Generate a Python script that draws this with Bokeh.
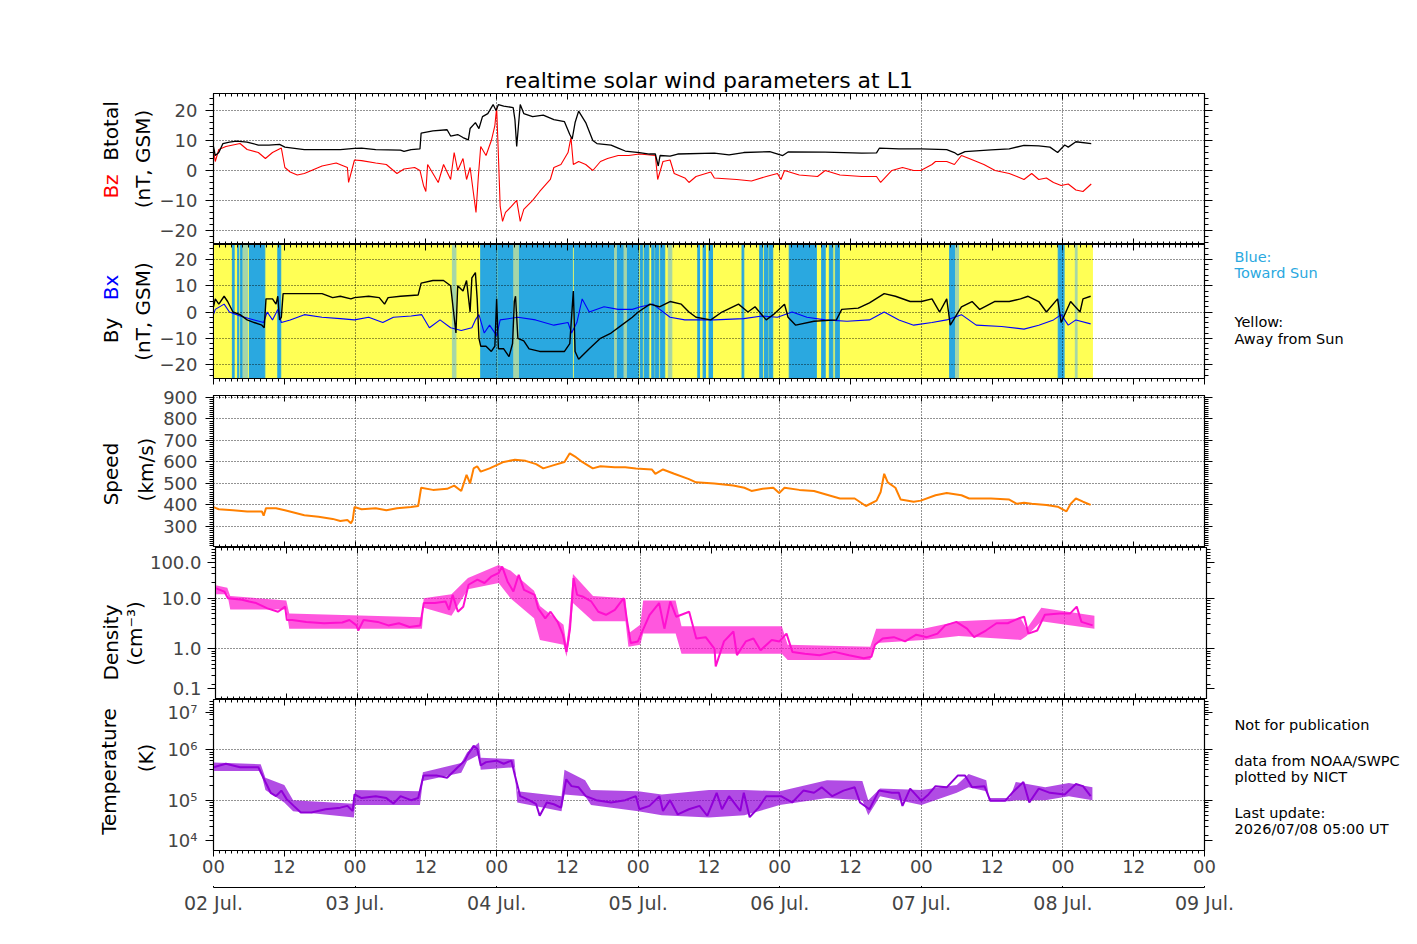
import math
from bokeh.plotting import figure
from bokeh.models import Range1d, FixedTicker, LinearAxis, LogAxis, Grid
from bokeh.core.properties import value
from bokeh.layouts import column, row
from bokeh.embed import file_html
from bokeh.resources import INLINE

FONT = "DejaVu Sans"

# ---------------- data (hours since 2026-07-02 00:00 UT) ----------------
bt_t = [0, 0.3, 0.9, 1.6, 2.7, 3.9, 5.7, 7.6, 9.4, 11.2,
        12.1, 15.4, 21.5, 23.9, 25.1, 27.5, 31.7, 32.3, 33.5, 35.0,
        35.2, 37.2, 39.6, 40.2, 41.4, 42.3, 43.2, 43.5, 44.4, 45.0,
        45.6, 46.5, 47.4, 47.9, 48.3, 49.2, 50.8, 51.1, 51.4, 51.7,
        52.0, 52.6, 54.1, 55.9, 57.7, 59.5, 60.4, 60.8, 61.3, 61.9,
        63.1, 64.3, 65.0, 67.4, 68.6, 69.8, 72.2, 73.9, 74.9, 75.4,
        75.7, 77.4, 78.7, 84.9, 87.4, 89.9, 94.3, 96.5, 97.4, 103.7,
        109.9, 112.4, 112.9, 116.2, 119.9, 124.3, 125.6, 126.2, 127.4, 131.8,
        134.9, 137.4, 139.9, 141.8, 143.1, 144.3, 144.9, 146.2, 148.8]
bt_v = [8, 5, 6, 9, 9.5, 9.8, 9.5, 8.5, 8.5, 8.7,
        7.8, 7.0, 7.0, 7.4, 7.5, 7.0, 6.8, 6.4, 7.0, 7.2,
        12.5, 13.2, 13.6, 11.5, 12, 11, 10.2, 14, 16, 14,
        18, 19, 22, 20, 22, 21.5, 21, 17, 8, 15,
        22, 19, 18, 18.5, 17, 16.3, 12, 10.5, 16, 19.8,
        16, 10, 9, 8.5, 7.5, 6.5, 6, 5.5, 5.5, 1.5,
        5, 4.8, 5.5, 5.8, 5.2, 6, 6.3, 5, 6.2, 6.1,
        5.8, 5.9, 7.5, 7.2, 7.2, 7.0, 6, 5.2, 6.3, 6.9,
        7.2, 8.4, 8.2, 7.8, 6, 8.5, 7.8, 9.6, 9.0]

bz_t = [0, 0.3, 0.9, 2.1, 3.3, 4.5, 5.7, 7.6, 8.8, 10.0,
        11.5, 12.1, 13.0, 14.2, 15.4, 16.6, 18.4, 20.8, 22.7, 22.9,
        23.9, 25.1, 27.5, 29.3, 31.1, 32.3, 34.1, 35.0, 35.6, 36.0,
        36.3, 37.2, 38.1, 39.0, 40.2, 40.8, 41.4, 42.3, 42.9, 43.5,
        44.1, 44.5, 44.9, 45.3, 46.2, 47.1, 47.7, 48.0, 48.3, 48.6,
        49.0, 49.5, 50.5, 51.4, 52.0, 52.6, 54.1, 55.3, 57.1, 57.7,
        58.9, 60.1, 60.6, 61.0, 61.9, 63.1, 64.3, 65.6, 66.8, 68.6,
        70.4, 72.2, 74.9, 75.3, 76.2, 77.4, 78.1, 79.9, 80.6, 81.8,
        84.3, 84.9, 88.7, 91.2, 93.7, 95.6, 96.2, 96.8, 99.3, 102.4,
        103.7, 106.2, 109.9, 112.4, 113.1, 115.0, 116.8, 118.7, 119.9, 121.8,
        122.4, 124.3, 125.6, 126.8, 128.1, 130.6, 132.5, 134.9, 136.2, 137.4,
        138.7, 139.9, 141.2, 142.4, 143.7, 144.9, 146.2, 147.4, 148.8]
bz_v = [7, 3, 7, 8, 8.5, 9, 7, 6, 4, 6,
        7.5, 1, -0.5, -1.5, -1, 0, 1.5, 2.5, 1, -4,
        3.5, 3.3, 2.5, 2, -1, 0.5, 1, 0, -5, -7,
        2, -1, -4, 2, -3, 6, 0, 4, -3, 1,
        -8, -14, -2, 8, 5, 10, 15, 21, 5, -12,
        -17, -14, -12, -10, -17, -13, -10, -7, -3, 1,
        2, 6, 11, 2, 3, 2, 0, 3, 4, 5,
        5, 5.5, 5, -3, 3, 3.5, -1, -2.5, -4, -2,
        -0.5, -2.5, -3, -3.5, -2, -1, -3, 0, -1.5, -2,
        0, -1.5, -2, -2, -4, 0, 1, 0, 0, 2,
        3, 3, 2, 5, 4, 2, 0, -1, -2, -3,
        -1, -3, -2.5, -4, -5, -4.5, -6.5, -7, -4.5]

by_t = [0, 0.3, 0.9, 1.8, 2.4, 3.3, 4.5, 5.7, 6.9, 8.2,
        8.6, 8.9, 10.0, 10.6, 10.9, 11.2, 11.5, 11.8, 15.4, 18.4,
        20.2, 21.5, 23.3, 23.9, 26.3, 28.1, 29.0, 29.6, 31.7, 34.7,
        35.2, 37.2, 39.0, 40.2, 40.7, 41.1, 41.4, 42.3, 42.9, 43.5,
        43.8, 44.4, 44.7, 45.0, 45.3, 46.2, 47.1, 47.7, 48.0, 48.3,
        49.2, 50.1, 50.7, 51.0, 51.2, 51.6, 52.6, 53.5, 55.3, 57.7,
        59.5, 60.4, 61.0, 61.3, 61.9, 63.7, 65.6, 67.4, 69.2, 71.0,
        72.0, 74.0, 75.6, 77.4, 79.3, 80.6, 81.8, 84.3, 86.2, 89.0,
        90.6, 91.8, 93.7, 94.9, 96.8, 97.4, 98.7, 101.8, 105.6, 106.5,
        109.3, 111.2, 113.7, 115.6, 118.1, 120.0, 121.8, 123.1, 124.3, 124.9,
        126.8, 128.6, 129.9, 132.4, 134.9, 136.8, 138.1, 139.9, 141.2, 143.1,
        143.7, 145.3, 146.9, 147.4, 148.7]
by_v = [2, 5, 3, 6, 4, 0, -1, -3, -4, -5,
        -6, 5, 5, 3, 6, -3, -2, 7, 7, 7,
        5.5, 6, 5, 5.5, 6, 5.5, 3, 5.5, 6, 6.5,
        11, 12, 12, 10, 0, -8, 10, 8, 12, 0,
        13, 15, 5, -10, -13, -13, -15, -13, 5, -14,
        -14, -17, -12, 4, 6, -10, -11, -14, -15, -15,
        -15, -12, 8, -15, -18, -14, -10, -8, -5, -2,
        0, 3, 2, 4, 3, 0, -2, -3, 0, 3,
        0, 2, -3, -1, 3, -2, -5, -3.5, -3, 1,
        1.5, 3.5, 7, 6, 4, 4, 5, 0, 5, -5,
        2, 4, 1, 4, 4, 5, 6, 4, 0, 5,
        -4, 4, 0, 5, 6]

bx_t = [0, 0.3, 1.8, 2.7, 4.5, 6.9, 8.5, 9.1, 10.0, 10.9,
        11.5, 13.0, 15.4, 18.4, 21.5, 23.9, 26.3, 28.7, 30.5, 33.5,
        35.3, 36.6, 38.4, 40.2, 42.0, 43.8, 44.4, 45.0, 45.9, 46.8,
        48.0, 48.6, 51.6, 54.6, 57.7, 60.1, 60.7, 61.6, 62.5, 63.7,
        66.2, 68.6, 71.0, 72.4, 74.5, 77.4, 79.9, 84.9, 89.9, 93.0,
        95.6, 98.1, 100.6, 103.7, 107.4, 111.2, 113.7, 116.2, 118.7, 121.8,
        124.3, 126.8, 129.3, 133.6, 137.4, 139.9, 142.4, 143.7, 144.9, 146.2,
        148.7]
bx_v = [-1, 1, 3, 0, -1.5, -3, -4, 0, -3, 1,
        -4, -3, -1, -2, -2.5, -3, -2, -4, -2, -1.5,
        -1, -6, -3, -6, -7, -6, -3, -1, -8, -5,
        -9, -3, -2, -3, -5, -4, -8, -4, 5, 0,
        2, 1, 1, 2, 3, -2, -3, -3, -2.5, -1.5,
        -2, 0, -2, -3, -3.5, -3, 0, -3, -5, -4,
        -3, -1, -5, -5.5, -6.5, -5, -3, -1, -5, -3,
        -4.5]

# IMF sector background (blue = toward Sun), hours
blue_start = [3.2, 4.1, 4.6, 6.1, 10.9, 45.3, 48.2, 61.2, 72.4, 73.0,
              74.3, 74.9, 75.8, 82.1, 83.0, 84.0, 89.6, 92.6, 93.4, 94.2,
              97.6, 103.1, 104.4, 105.4, 124.8, 143.2]
blue_end = [3.5, 4.3, 4.9, 8.7, 11.4, 48.0, 60.9, 72.1, 72.7, 73.8,
            74.7, 75.5, 76.5, 82.4, 83.4, 84.6, 89.9, 93.1, 94.0, 94.8,
            102.2, 103.7, 105.0, 106.1, 125.7, 144.2]
mixed_start = [5.0, 40.5, 50.9, 68.0, 69.6, 77.1, 125.8, 146.1]
mixed_end = [5.8, 41.1, 51.7, 68.3, 70.0, 77.7, 126.3, 146.4]
data_end = 149.0

sp_t = [0, 0.9, 3.3, 5.7, 8.2, 8.5, 8.9, 10.6, 12.1, 13.6,
        15.4, 17.8, 20.2, 21.5, 22.7, 23.3, 23.6, 23.9, 25.1, 27.5,
        29.3, 31.1, 33.5, 34.7, 35.2, 37.2, 39.6, 40.8, 42.0, 42.9,
        43.5, 44.1, 44.7, 45.3, 46.8, 48.0, 49.2, 51.1, 52.9, 54.7,
        55.9, 57.7, 59.5, 60.4, 61.3, 62.5, 64.3, 65.6, 68.0, 69.8,
        71.6, 74.3, 74.9, 76.2, 78.1, 80.6, 81.8, 84.9, 88.1, 90.0,
        91.2, 93.1, 94.9, 95.9, 96.8, 99.3, 101.8, 103.7, 106.2, 108.7,
        110.6, 112.4, 113.1, 113.7, 114.3, 115.6, 116.5, 118.7, 119.9, 122.4,
        124.3, 126.8, 128.1, 131.8, 134.9, 136.2, 137.4, 138.7, 141.2, 143.1,
        144.6, 145.3, 146.2, 147.4, 148.7]
sp_v = [390, 380, 375, 370, 370, 350, 385, 385, 375, 365,
        352, 345, 335, 325, 330, 315, 330, 390, 380, 385,
        375, 385, 390, 395, 480, 470, 475, 490, 465, 540,
        500, 570, 580, 555, 570, 585, 600, 610, 605, 590,
        570, 585, 600, 640, 625, 600, 570, 580, 575, 575,
        570, 565, 545, 565, 545, 520, 505, 500, 490, 480,
        465, 475, 480, 455, 480, 470, 465, 450, 430, 430,
        395, 420, 460, 545, 505, 480, 425, 415, 420, 445,
        455, 445, 430, 430, 425, 405, 410, 405, 400, 392,
        370, 405, 430, 415, 400]

dn_t = [0, 1.5, 2.1, 4.5, 5.7, 6.9, 8.8, 10.6, 11.8, 12.1,
        13.0, 15.4, 18.4, 21.5, 22.7, 23.9, 24.2, 25.1, 27.5, 29.3,
        31.1, 32.9, 34.7, 35.3, 37.2, 39.0, 39.6, 40.2, 41.1, 42.0,
        42.9, 44.4, 45.6, 46.8, 48.0, 48.6, 49.5, 50.5, 51.4, 52.3,
        54.1, 54.7, 55.9, 56.8, 58.0, 58.9, 59.5, 60.1, 60.7, 61.3,
        62.2, 63.7, 64.9, 66.2, 67.7, 69.2, 69.8, 70.4, 71.6, 72.8,
        73.6, 75.2, 76.1, 77.1, 78.1, 80.3, 81.5, 83.1, 84.6, 84.8,
        86.2, 87.8, 88.4, 89.9, 91.2, 92.4, 94.3, 95.6, 96.8, 97.8,
        99.9, 102.4, 104.9, 107.4, 109.9, 111.2, 111.8, 113.1, 115.0, 116.9,
        118.8, 120.6, 122.4, 123.7, 125.6, 127.4, 128.6, 130.6, 132.4, 134.3,
        136.2, 137.1, 137.8, 139.3, 140.6, 143.1, 144.9, 146.0, 146.8, 148.7]
dn_v = [15.8, 13.5, 10, 9.3, 8.6, 8, 6.3, 5.4, 6.8, 3.7,
        3.7, 3.4, 3.2, 3.3, 3.7, 2.9, 2.3, 3.7, 3.4, 2.9,
        3.2, 2.7, 2.9, 8, 8, 8.6, 5.9, 11.6, 5.4, 6.8,
        18.4, 23.2, 19.9, 27, 31.4, 42, 21.4, 13.6, 29, 14.6,
        11.6, 6.3, 4, 5.4, 3.4, 1.9, 0.87, 2.5, 24.9, 11.6,
        10.8, 8.6, 5.4, 4.7, 5.9, 10, 3.4, 1.3, 1.4, 2.9,
        4.7, 8, 2.5, 8.6, 4.3, 5.4, 1.6, 1.7, 1.0, 0.45,
        1.4, 2.2, 0.75, 1.4, 1.6, 0.94, 1.5, 1.4, 2, 0.87,
        0.8, 0.75, 0.87, 0.75, 0.65, 0.7, 1.2, 1.6, 1.7, 1.4,
        1.9, 1.7, 2, 2.9, 3.4, 2.5, 1.7, 2.3, 3.2, 3.2,
        4, 4.3, 2, 2.3, 4.7, 5, 5, 6.8, 3.4, 2.9]
# spread of the 1-min density samples (envelope)
dn_band_t = [0, 2, 2.5, 12, 12.5, 35, 35.3, 40, 42.8, 48,
             50, 54, 55, 59, 59.5, 60, 60.6, 64, 69.5, 70,
             72, 72.5, 78, 79, 96, 97, 111, 112, 120, 126,
             136.5, 137.5, 140, 149]
dn_band_lo = [12, 12, 6, 6, 2.5, 2.5, 6.5, 4.5, 15, 20,
              10, 4, 1.5, 1.2, 0.7, 1.5, 8, 3.5, 3.5, 1.1,
              1.2, 2, 2, 0.8, 0.8, 0.6, 0.6, 1.3, 1.5, 1.8,
              1.5, 1.8, 3.5, 2.5]
dn_band_hi = [18, 16, 11, 9, 5, 4.2, 10, 12, 25, 45,
              35, 14, 7, 3, 1.2, 4, 30, 11, 10, 2,
              3, 9, 9, 2.8, 2.8, 1.2, 1.1, 2.5, 2.5, 3.5,
              4, 2.5, 6.5, 4.5]

tp_t = [0, 2.1, 4.5, 7.6, 8.8, 9.7, 10.6, 11.5, 12.4, 13.6,
        14.8, 16.6, 19.0, 21.5, 22.7, 23.6, 23.9, 25.1, 27.5, 29.3,
        30.5, 31.7, 33.5, 34.7, 35.6, 37.8, 39.6, 41.4, 42.6, 43.2,
        44.1, 44.7, 45.3, 46.2, 48.0, 49.2, 50.5, 51.1, 52.0, 53.5,
        54.7, 55.3, 56.5, 57.7, 58.9, 59.8, 60.7, 61.9, 63.1, 64.9,
        67.4, 69.8, 71.6, 72.2, 73.9, 75.6, 76.2, 77.4, 78.7, 80.6,
        82.4, 83.7, 85.3, 86.2, 87.4, 89.3, 89.9, 90.9, 92.4, 93.7,
        96.2, 98.1, 100.0, 101.8, 103.1, 104.9, 106.8, 108.7, 109.6, 111.2,
        112.8, 115.0, 116.2, 116.8, 118.1, 120.0, 121.2, 122.4, 124.3, 126.2,
        127.4, 128.6, 130.7, 131.7, 134.2, 135.4, 137.3, 138.3, 139.9, 141.8,
        144.3, 146.2, 147.4, 148.7]
tp_v = [4.5e5, 5.3e5, 4.5e5, 4.5e5, 2.3e5, 1.4e5, 1.2e5, 1.55e5, 1.05e5, 7.7e4,
        5.7e4, 5.7e4, 6.6e4, 7.1e4, 7.7e4, 6.1e4, 1.3e5, 1.1e5, 1.2e5, 1.1e5,
        8.6e4, 1.2e5, 1e5, 1.1e5, 3.1e5, 3.1e5, 2.8e5, 4.5e5, 6.1e5, 8.3e5,
        1.2e6, 1.05e6, 4.9e5, 5.7e5, 6.1e5, 5.3e5, 6.1e5, 3.1e5, 1.2e5, 1e5,
        8.3e4, 4.9e4, 9e4, 8.3e4, 7.1e4, 2.6e5, 1.9e5, 1.8e5, 1.2e5, 1e5,
        9e4, 1e5, 1.2e5, 6.6e4, 7.7e4, 1.2e5, 6.1e4, 1e5, 5.2e4, 6.6e4,
        7.7e4, 4.9e4, 1.4e5, 6.6e4, 1.2e5, 6.1e4, 1.4e5, 4.6e4, 7.1e4, 1.2e5,
        1.2e5, 9e4, 1.55e5, 1.4e5, 1.8e5, 1.2e5, 1.55e5, 1.8e5, 9e4, 6.6e4,
        1.55e5, 1.4e5, 1.4e5, 7.7e4, 1.7e5, 9.7e4, 1.3e5, 1.9e5, 1.8e5, 3.1e5,
        3.1e5, 1.8e5, 1.9e5, 9.7e4, 9.7e4, 1.4e5, 2.3e5, 9e4, 1.7e5, 1.4e5,
        1.3e5, 2.1e5, 1.9e5, 1.2e5]
# spread of the 1-min temperature samples (envelope)
tp_band_t = [0, 8, 8.8, 12, 13.5, 23.8, 24, 35, 35.5, 42,
             43, 45, 45.3, 51, 51.5, 59, 59.5, 63, 64, 72,
             76, 84, 90, 96, 104, 110, 111, 113, 120, 126,
             128, 131, 131.5, 135, 136, 141, 145, 149]
tp_band_lo = [3.8e5, 3.8e5, 1.6e5, 9e4, 6e4, 4.5e4, 8e4, 8e4, 2.4e5, 3.5e5,
              6e5, 8e5, 4e5, 4.5e5, 9e4, 6e4, 1.3e5, 1.2e5, 8e4, 6e4,
              5e4, 4.5e4, 5e4, 8e4, 1.1e5, 1e5, 5e4, 1.2e5, 8e4, 1.4e5,
              1.8e5, 1.5e5, 9.5e4, 9.5e4, 1e5, 1e5, 1.2e5, 1e5]
tp_band_hi = [5.6e5, 5.2e5, 2.8e5, 2e5, 1e5, 8.5e4, 1.6e5, 1.5e5, 3.6e5, 5.5e5,
              9e5, 1.4e6, 7e5, 6.5e5, 1.5e5, 1.2e5, 4e5, 2.5e5, 1.6e5, 1.5e5,
              1.3e5, 1.6e5, 1.6e5, 1.5e5, 2.5e5, 2.4e5, 1e5, 1.7e5, 1.6e5, 2e5,
              3.3e5, 2.5e5, 1.1e5, 1.1e5, 2.3e5, 1.8e5, 2.2e5, 1.8e5]

# tick labels
hour_ticks = list(range(0, 169, 12))
hour_labels = ["00" if h % 24 == 0 else "12" for h in hour_ticks]
day_ticks = list(range(0, 169, 24))
day_labels = ["02 Jul.", "03 Jul.", "04 Jul.", "05 Jul.", "06 Jul.", "07 Jul.", "08 Jul.", "09 Jul."]

# ---------------- styling ----------------
YELLOW = "#ffff55"
BLUE_BG = "#2aa8e0"
MIXED = "#a6d6a8"
C_BZ = "#ff0000"
C_BX = "#0000ff"
C_SP = "#ff8000"
C_DN = "#ff10d0"
C_TP = "#9000d8"

xr = Range1d(0, 168)
FW = 991
V = math.pi / 2


def new_panel(fh, yr, left, right, log=False, top=0, bottom=0):
    p = figure(frame_width=FW, frame_height=fh, x_range=xr, y_range=yr,
               y_axis_type="log" if log else "linear",
               x_axis_location=None, y_axis_location=None,
               min_border_left=left, min_border_right=right,
               min_border_top=top, min_border_bottom=bottom,
               toolbar_location=None, output_backend="svg")
    p.center = [r for r in p.center if not isinstance(r, Grid)]
    p.outline_line_color = "black"
    p.outline_line_width = 1.2
    p.background_fill_color = "white"
    p.border_fill_color = "white"
    return p


def text_fig(w, h, frame_top, frame_bottom):
    # the row aligns this frame with the neighbouring panel frame;
    # y is expressed as minus the page pixel row
    f = figure(width=w, height=h, x_range=Range1d(0, w), y_range=Range1d(-frame_bottom, -frame_top),
               x_axis_location=None, y_axis_location=None, min_border=0,
               toolbar_location=None, output_backend="svg")
    f.center = [r for r in f.center if not isinstance(r, Grid)]
    f.outline_line_color = None
    f.background_fill_color = "white"
    f.border_fill_color = "white"
    return f


def put(f, x, y_page, s, size="20px", color="black", vertical=True, align="center"):
    f.text(x=[x], y=[-y_page], text=[s], angle=V if vertical else 0.0,
           text_font=value(FONT), text_font_size=value(size), text_color=color,
           text_align=align, text_baseline="middle")


def hide_labels(ax):
    ax.major_label_text_font_size = "1px"
    ax.major_label_text_alpha = 0
    ax.major_label_text_color = None
    ax.major_label_standoff = 0


def x_axis(p, place, inward, labels=False, size="18px"):
    ax = LinearAxis(ticker=FixedTicker(ticks=hour_ticks, minor_ticks=list(range(0, 169))))
    if inward:
        ax.major_tick_in, ax.major_tick_out = 6, 0
        ax.minor_tick_in, ax.minor_tick_out = 3, 0
    else:
        ax.major_tick_in, ax.major_tick_out = 0, 6
        ax.minor_tick_in, ax.minor_tick_out = 0, 3
    if labels:
        ax.major_label_overrides = dict(zip(hour_ticks, hour_labels))
        ax.major_label_text_font = FONT
        ax.major_label_text_font_size = size
        ax.major_label_standoff = 3
    else:
        hide_labels(ax)
    ax.axis_line_color = "black"
    p.add_layout(ax, place)


def y_axes(p, log, ticks, labels, minor, grid_ticks, standoff=8):
    cls = LogAxis if log else LinearAxis
    for side in ("left", "right"):
        ax = cls(ticker=FixedTicker(ticks=ticks, minor_ticks=minor))
        ax.major_tick_out, ax.major_tick_in = 8, 0
        ax.minor_tick_out, ax.minor_tick_in = 4, 0
        if side == "left":
            ax.major_label_overrides = dict(zip(ticks, labels))
            ax.major_label_text_font = FONT
            ax.major_label_text_font_size = "18px"
            ax.major_label_standoff = standoff
        else:
            hide_labels(ax)
        p.add_layout(ax, side)
    g = Grid(dimension=1, ticker=FixedTicker(ticks=grid_ticks),
             grid_line_color="black", grid_line_dash="1 2", grid_line_width=1, grid_line_alpha=0.85)
    p.add_layout(g)
    gx = Grid(dimension=0, ticker=FixedTicker(ticks=day_ticks[1:-1]),
              grid_line_color="black", grid_line_dash="1 2", grid_line_width=1, grid_line_alpha=0.85)
    p.add_layout(gx)


lin_minor_b = list(range(-24, 26, 2))
b_ticks = [-20, -10, 0, 10, 20]
b_labels = ["\u221220", "\u221210", "0", "10", "20"]

# ---- row 1: Btotal / Bz ----
WL1 = 156
p1 = new_panel(151, Range1d(-24.7, 25.7), 213 - WL1, 213, top=93, bottom=0)
p1.title.text = "realtime solar wind parameters at L1"
p1.title.align = "center"
p1.title.text_font = FONT
p1.title.text_font_size = "22px"
p1.title.text_font_style = "normal"
p1.title.text_color = "black"
p1.title.standoff = 2
x_axis(p1, "above", True)
x_axis(p1, "below", True)
y_axes(p1, False, b_ticks, b_labels, lin_minor_b, b_ticks)
p1.line(bz_t, bz_v, color=C_BZ, line_width=1.1)
p1.line(bt_t, bt_v, color="black", line_width=1.3)
L1 = text_fig(WL1, 244, 93, 244)
put(L1, 110, 130.5, "Btotal")
put(L1, 110, 186, "Bz", color=C_BZ)
put(L1, 142, 158.5, "(nT, GSM)")

# ---- row 2: By / Bx with sector colouring ----
WL2, WR2 = 156, 196
p2 = new_panel(134, Range1d(-25.3, 25.7), 213 - WL2, 16, top=0, bottom=7)
p2.quad(left=[0], right=[data_end], bottom=[-25.3], top=[25.7], color=YELLOW, level="image")
p2.quad(left=blue_start, right=blue_end, bottom=-25.3, top=25.7, color=BLUE_BG, level="image")
p2.quad(left=mixed_start, right=mixed_end, bottom=-25.3, top=25.7, color=MIXED, level="image")
x_axis(p2, "above", True)
x_axis(p2, "below", False)
y_axes(p2, False, b_ticks, b_labels, lin_minor_b, b_ticks)
p2.line(bx_t, bx_v, color=C_BX, line_width=1.1)
p2.line(by_t, by_v, color="black", line_width=1.4)
L2 = text_fig(WL2, 141, 244, 378)
put(L2, 110, 330, "By")
put(L2, 110, 287, "Bx", color=C_BX)
put(L2, 142, 311, "(nT, GSM)")
R2 = text_fig(WR2, 141, 244, 378)
put(R2, 14, 256, "Blue:", size="14.5px", color=BLUE_BG, vertical=False, align="left")
put(R2, 14, 272, "Toward Sun", size="14.5px", color=BLUE_BG, vertical=False, align="left")
put(R2, 14, 321, "Yellow:", size="14.5px", vertical=False, align="left")
put(R2, 14, 338, "Away from Sun", size="14.5px", vertical=False, align="left")

# ---- row 3: speed ----
WL3 = 158
p3 = new_panel(152, Range1d(202, 909), 213 - WL3, 213, top=10, bottom=0)
x_axis(p3, "above", True)
x_axis(p3, "below", True)
sp_ticks = list(range(300, 901, 100))
y_axes(p3, False, sp_ticks, [str(v) for v in sp_ticks], list(range(210, 910, 10)), sp_ticks)
p3.line(sp_t, sp_v, color=C_SP, line_width=2)
L3 = text_fig(WL3, 162, 395, 547)
put(L3, 110, 473.5, "Speed")
put(L3, 145, 469, "(km/s)")

# ---- row 4: density (log) ----
WL4 = 146
p4 = new_panel(152, Range1d(0.1, 100), 213 - WL4, 213, log=True, top=0, bottom=0)
x_axis(p4, "above", True)
x_axis(p4, "below", True)
dn_minor = [k * 10.0 ** d for d in (-1, 0, 1) for k in range(2, 10)]
y_axes(p4, True, [0.165, 1.0, 10.0, 50.6], ["0.1", "1.0", "10.0", "100.0"], dn_minor, [1.0, 10.0], standoff=6)
p4.varea(x=dn_band_t, y1=dn_band_lo, y2=dn_band_hi, color=C_DN, alpha=0.7)
p4.line(dn_t, dn_v, color=C_DN, line_width=2)
L4 = text_fig(WL4, 152, 547, 699)
put(L4, 110, 642, "Density")
put(L4, 134, 633, "(cm\u207b\u00b3)")

# ---- row 5: temperature (log) ----
WL5, WR5 = 158, 196
p5 = new_panel(151, Range1d(1e4, 1e7), 213 - WL5, 16, log=True, top=0, bottom=36)
x_axis(p5, "above", True)
x_axis(p5, "below", False, labels=True)
tp_minor = [k * 10.0 ** d for d in (4, 5, 6) for k in range(2, 10)]
y_axes(p5, True, [1.58e4, 1e5, 1e6, 5.5e6], ["10\u2074", "10\u2075", "10\u2076", "10\u2077"], tp_minor, [1e5, 1e6])
p5.varea(x=tp_band_t, y1=tp_band_lo, y2=tp_band_hi, color=C_TP, alpha=0.7)
p5.line(tp_t, tp_v, color=C_TP, line_width=2)
L5 = text_fig(WL5, 187, 699, 850)
put(L5, 108, 771, "Temperature")
put(L5, 145, 757.5, "(K)")
R5 = text_fig(WR5, 187, 699, 850)
put(R5, 14, 724, "Not for publication", size="14.5px", vertical=False, align="left")
put(R5, 14, 760, "data from NOAA/SWPC", size="14.5px", vertical=False, align="left")
put(R5, 14, 776, "plotted by NICT", size="14.5px", vertical=False, align="left")
put(R5, 14, 812, "Last update:", size="14.5px", vertical=False, align="left")
put(R5, 14, 828, "2026/07/08 05:00 UT", size="14.5px", vertical=False, align="left")

# ---- date axis ----
p6 = figure(frame_width=FW, frame_height=1, x_range=xr, y_range=Range1d(0, 1),
            x_axis_location=None, y_axis_location=None,
            min_border_left=213, min_border_right=213, min_border_top=0, min_border_bottom=57,
            toolbar_location=None, output_backend="svg")
p6.center = [r for r in p6.center if not isinstance(r, Grid)]
p6.outline_line_color = None
dax = LinearAxis(ticker=FixedTicker(ticks=day_ticks, minor_ticks=[]))
dax.major_label_overrides = dict(zip(day_ticks, day_labels))
dax.major_tick_in, dax.major_tick_out = 8, 0
dax.major_label_text_font = FONT
dax.major_label_text_font_size = "19px"
dax.major_label_standoff = 4
dax.axis_line_color = "black"
p6.add_layout(dax, "below")

layout = column(row(L1, p1), row(L2, p2, R2), row(L3, p3), row(L4, p4), row(L5, p5, R5), p6)
open("out.html", "w").write(file_html(layout, INLINE))
